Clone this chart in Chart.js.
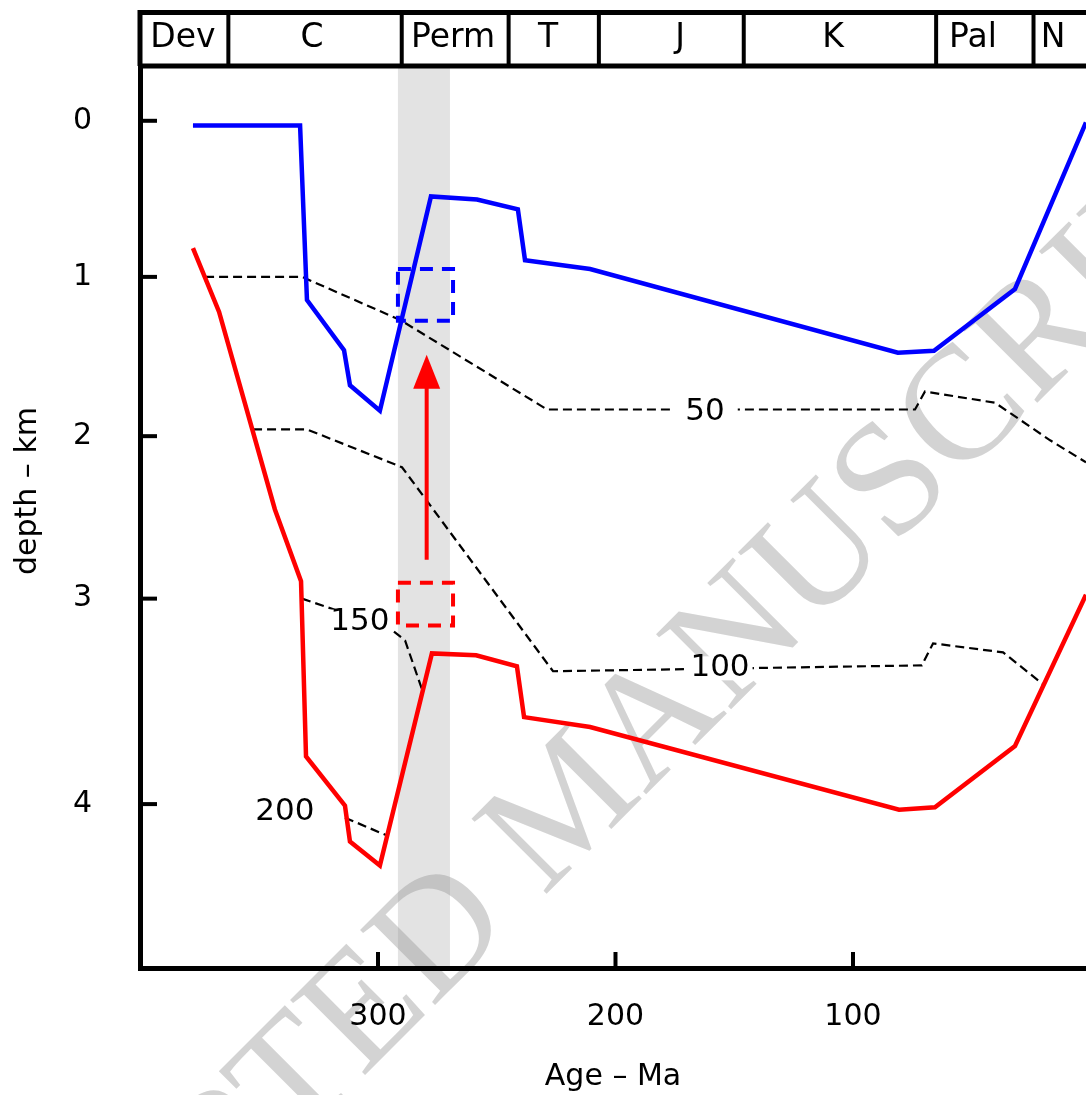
<!DOCTYPE html>
<html>
<head>
<meta charset="utf-8">
<script src="https://cdn.jsdelivr.net/npm/chart.js@4.4.1/dist/chart.umd.min.js"></script>
<style>
  html, body { margin: 0; padding: 0; background: #fff; }
  canvas { display: block; }
</style>
</head>
<body>
<canvas id="burialChart" width="1086" height="1095"></canvas>
<script>
// Burial history - age (Ma) against depth (km)
const blueAge   = [377.9, 332.8, 329.9, 314.3, 311.8, 299.2, 277.7, 258.3, 241.1, 238.1, 210.7, 81.1, 65.9, 31.8, 1.9];
const blueDepth = [0.03, 0.03, 1.125, 1.44, 1.66, 1.82, 0.475, 0.494, 0.556, 0.875, 0.931, 1.456, 1.444, 1.056, 0.01];

const redAge   = [377.9, 366.9, 343.4, 332.4, 330.3, 313.9, 311.8, 299.2, 277.3, 258.7, 241.5, 238.5, 210.7, 80.6, 65.5, 31.8, 1.9];
const redDepth = [0.8, 1.2, 2.44, 2.89, 3.99, 4.3, 4.525, 4.675, 3.344, 3.356, 3.425, 3.744, 3.806, 4.325, 4.31, 3.925, 2.975];

// Isotherms (dashed)
const iso50Age    = [372.8, 332, 290.7, 228.8, 73.9, 69.7, 40.2, 17, 1.9];
const iso50Depth  = [0.98, 0.98, 1.25, 1.8125, 1.8125, 1.7, 1.77, 2.006, 2.144];
const iso100Age   = [352.6, 329.9, 289.9, 226.3, 71, 66.3, 36.8, 20];
const iso100Depth = [1.9375, 1.9375, 2.175, 3.456, 3.419, 3.281, 3.3375, 3.5375];
const iso150Age   = [332, 294.9, 288.6, 281.5];
const iso150Depth = [3.0, 3.1875, 3.2625, 3.569];
const iso200Age   = [313.9, 296.2];
const iso200Depth = [4.375, 4.4875];

const isoLabels     = ['50', '100', '150', '200'];
const isoLabelAge   = [162.3, 156, 307.6, 339.2];
const isoLabelDepth = [1.825, 3.4375, 3.144, 4.342];
const isoLabelGap   = [13, 3, 3, 3];

// Dashed boxes and arrow
const blueBoxAge   = [291.6, 268.4, 268.4, 291.6, 291.6];
const blueBoxDepth = [0.931, 0.931, 1.256, 1.256, 0.931];
const redBoxAge    = [291.6, 268.4, 268.4, 291.6, 291.6];
const redBoxDepth  = [2.9, 2.9, 3.169, 3.169, 2.9];
const arrowAge = 279.5, arrowFrom = 2.756, arrowTo = 1.469;

// Grey strip
const shadeFrom = 291.6, shadeTo = 269.7;

// Period band
const periodNames    = ['Dev', 'C', 'Perm', 'T', 'J', 'K', 'Pal', 'N'];
const periodBounds   = [363, 290, 245, 207, 146, 65, 24];
const periodLabelAge = [382.1, 327.8, 268.4, 228.4, 172.8, 108.4, 49.5, 15.8];

// Axes
const xTicks = [300, 200, 100];
const yTickPos = [0, 0.98, 1.98, 3.0, 4.29];
const yTickLabels = ['0', '1', '2', '3', '4'];

const FONT = 'DejaVu Sans';

function pts(ages, depths) {
  return ages.map((a, i) => ({ x: a, y: depths[i] }));
}

function solid(data, color) {
  return { data, borderColor: color, borderWidth: 4.5, pointRadius: 0, tension: 0, borderJoinStyle: 'miter' };
}
function dashed(data) {
  return { data, borderColor: '#000', borderWidth: 2.2, borderDash: [9, 5], pointRadius: 0, tension: 0 };
}
function box(data, color) {
  return { data, borderColor: color, borderWidth: 4, borderDash: [13, 9], pointRadius: 0, tension: 0 };
}

const decorations = {
  id: 'decorations',
  beforeDraw(chart) {
    const { ctx, chartArea: a, scales: { x } } = chart;
    ctx.save();
    ctx.fillStyle = '#fff';
    ctx.fillRect(0, 0, chart.width, chart.height);

    const x0 = x.getPixelForValue(shadeFrom);
    const x1 = x.getPixelForValue(shadeTo);
    ctx.fillStyle = '#e3e3e3';
    ctx.fillRect(x0, a.top, x1 - x0, a.bottom - a.top);

    // watermark
    ctx.translate(572, 808);
    ctx.rotate(-45 * Math.PI / 180);
    ctx.font = '162px "Liberation Serif"';
    ctx.fillStyle = 'rgba(150,150,150,0.42)';
    ctx.textAlign = 'center';
    ctx.textBaseline = 'middle';
    ctx.fillText('ACCEPTED MANUSCRIPT', 0, 0);
    ctx.restore();
  },
  afterDatasetsDraw(chart) {
    const { ctx, scales: { x, y } } = chart;
    ctx.save();
    // isotherm labels
    ctx.font = '31px "' + FONT + '"';
    ctx.textAlign = 'center';
    ctx.textBaseline = 'middle';
    isoLabels.forEach((t, i) => {
      const px = x.getPixelForValue(isoLabelAge[i]);
      const py = y.getPixelForValue(isoLabelDepth[i]);
      const w = ctx.measureText(t).width + 2 * isoLabelGap[i];
      ctx.fillStyle = '#fff';
      ctx.fillRect(px - w / 2, py - 12, w, 24);
      ctx.fillStyle = '#000';
      ctx.fillText(t, px, py);
    });

    // red arrow
    const ax = x.getPixelForValue(arrowAge);
    const yTail = y.getPixelForValue(arrowFrom);
    const yTip = y.getPixelForValue(arrowTo);
    ctx.strokeStyle = '#ff0000';
    ctx.lineWidth = 4;
    ctx.beginPath();
    ctx.moveTo(ax, yTail);
    ctx.lineTo(ax, yTip + 30);
    ctx.stroke();
    ctx.fillStyle = '#ff0000';
    ctx.beginPath();
    ctx.moveTo(ax, yTip);
    ctx.lineTo(ax - 13.5, yTip + 34);
    ctx.lineTo(ax + 13.5, yTip + 34);
    ctx.closePath();
    ctx.fill();
    ctx.restore();
  },
  afterDraw(chart) {
    const { ctx, chartArea: a, scales: { x, y } } = chart;
    ctx.save();
    ctx.strokeStyle = '#000';
    ctx.lineCap = 'butt';

    // inward tick marks
    ctx.lineWidth = 4;
    yTickPos.forEach(v => {
      const py = y.getPixelForValue(v);
      ctx.beginPath();
      ctx.moveTo(a.left, py);
      ctx.lineTo(a.left + 17, py);
      ctx.stroke();
    });
    xTicks.forEach(v => {
      const px = x.getPixelForValue(v);
      ctx.beginPath();
      ctx.moveTo(px, a.bottom);
      ctx.lineTo(px, a.bottom - 16);
      ctx.stroke();
    });

    // period band above the plot
    const top = 12.5, bot = a.top;
    ctx.lineWidth = 5;
    ctx.beginPath();
    ctx.moveTo(a.left, bot);
    ctx.lineTo(a.left, top);
    ctx.lineTo(chart.width, top);
    ctx.moveTo(a.left, bot);
    ctx.lineTo(chart.width, bot);
    ctx.stroke();
    ctx.lineWidth = 4;
    periodBounds.forEach(b => {
      const px = x.getPixelForValue(b);
      ctx.beginPath();
      ctx.moveTo(px, top);
      ctx.lineTo(px, bot);
      ctx.stroke();
    });
    ctx.fillStyle = '#000';
    ctx.font = '33px "' + FONT + '"';
    ctx.textAlign = 'center';
    ctx.textBaseline = 'middle';
    periodNames.forEach((n, i) => {
      ctx.fillText(n, x.getPixelForValue(periodLabelAge[i]), 38);
    });

    // y axis title
    ctx.font = '30px "' + FONT + '"';
    ctx.translate(28, 491);
    ctx.rotate(-Math.PI / 2);
    ctx.fillText('depth – km', 0, 0);
    ctx.restore();
  }
};

new Chart(document.getElementById('burialChart').getContext('2d'), {
  type: 'line',
  data: {
    datasets: [
      solid(pts(blueAge, blueDepth), '#0000ff'),
      solid(pts(redAge, redDepth), '#ff0000'),
      box(pts(blueBoxAge, blueBoxDepth), '#0000ff'),
      box(pts(redBoxAge, redBoxDepth), '#ff0000'),
      dashed(pts(iso50Age, iso50Depth)),
      dashed(pts(iso100Age, iso100Depth)),
      dashed(pts(iso150Age, iso150Depth)),
      dashed(pts(iso200Age, iso200Depth))
    ]
  },
  options: {
    responsive: false,
    animation: false,
    layout: { padding: { top: 62, right: 0, bottom: 0, left: 0 } },
    plugins: { legend: { display: false }, tooltip: { enabled: false } },
    scales: {
      x: {
        type: 'linear',
        reverse: true,
        min: 1.9,
        max: 400.2,
        afterFit: s => { s.height = 127; },
        afterBuildTicks: s => { s.ticks = xTicks.map(v => ({ value: v })); },
        grid: { drawOnChartArea: false, drawTicks: false },
        border: { color: '#000', width: 5 },
        ticks: {
          color: '#000',
          font: { family: FONT, size: 30 },
          padding: 31,
          maxRotation: 0,
          autoSkip: false
        },
        title: {
          display: true,
          text: 'Age – Ma',
          color: '#000',
          font: { family: FONT, size: 30 },
          padding: 0
        }
      },
      y: {
        type: 'linear',
        reverse: true,
        min: -0.344,
        max: 5.319,
        afterFit: s => { s.width = 140; },
        afterBuildTicks: s => { s.ticks = yTickPos.map(v => ({ value: v })); },
        grid: { drawOnChartArea: false, drawTicks: false },
        border: { color: '#000', width: 5 },
        ticks: {
          color: '#000',
          font: { family: FONT, size: 30 },
          padding: 48,
          callback: (v, i) => yTickLabels[i]
        }
      }
    }
  },
  plugins: [decorations]
});
</script>
</body>
</html>
